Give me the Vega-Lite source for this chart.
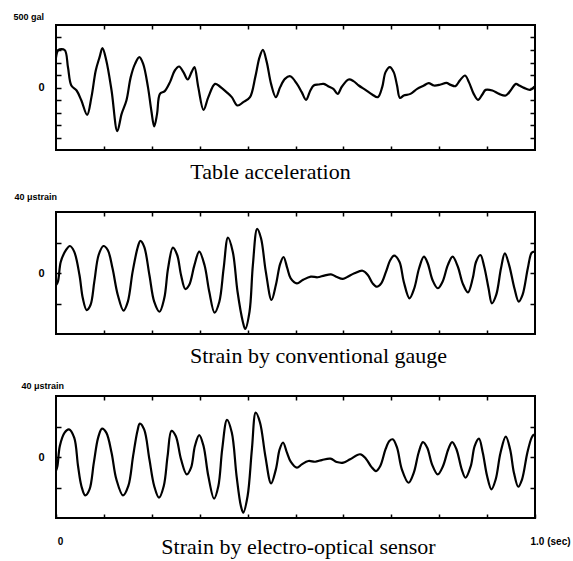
{
  "$schema": "https://vega.github.io/schema/vega-lite/v6.json",
  "background": "white",
  "padding": {"left": 12, "top": 11, "right": 5, "bottom": 5},
  "bounds": "flush",
  "spacing": 62,
  "config": {
    "view": {"stroke": "black", "strokeWidth": 2},
    "axis": {"domain": false, "grid": false, "tickColor": "black", "tickWidth": 1.5, "labelColor": "black", "titleColor": "black", "labelOverlap": false, "labelFlush": false}
  },
  "datasets": {
    "acc": [
      {"t":0,"v":240},{"t":0.005,"v":300},{"t":0.018,"v":300},{"t":0.025,"v":162},{"t":0.032,"v":16},{"t":0.043,"v":-24},{"t":0.053,"v":-104},{"t":0.065,"v":-219},{"t":0.074,"v":-77},{"t":0.083,"v":136},{"t":0.091,"v":243},{"t":0.097,"v":315},{"t":0.105,"v":216},{"t":0.116,"v":-24},{"t":0.128,"v":-349},{"t":0.137,"v":-211},{"t":0.147,"v":-104},{"t":0.156,"v":83},{"t":0.165,"v":189},{"t":0.174,"v":243},{"t":0.182,"v":189},{"t":0.192,"v":3},{"t":0.199,"v":-184},{"t":0.205,"v":-312},{"t":0.211,"v":-211},{"t":0.217,"v":-51},{"t":0.227,"v":-29},{"t":0.238,"v":43},{"t":0.248,"v":136},{"t":0.257,"v":168},{"t":0.266,"v":123},{"t":0.275,"v":64},{"t":0.283,"v":123},{"t":0.289,"v":163},{"t":0.297,"v":3},{"t":0.308,"v":-179},{"t":0.318,"v":-77},{"t":0.332,"v":29},{"t":0.342,"v":8},{"t":0.356,"v":-37},{"t":0.367,"v":-77},{"t":0.379,"v":-144},{"t":0.391,"v":-117},{"t":0.405,"v":-77},{"t":0.416,"v":83},{"t":0.425,"v":243},{"t":0.432,"v":301},{"t":0.44,"v":203},{"t":0.449,"v":29},{"t":0.459,"v":-77},{"t":0.468,"v":3},{"t":0.478,"v":69},{"t":0.489,"v":90},{"t":0.503,"v":29},{"t":0.513,"v":-37},{"t":0.522,"v":-99},{"t":0.531,"v":-24},{"t":0.538,"v":16},{"t":0.548,"v":24},{"t":0.559,"v":29},{"t":0.569,"v":8},{"t":0.579,"v":-11},{"t":0.588,"v":-51},{"t":0.597,"v":8},{"t":0.611,"v":64},{"t":0.621,"v":51},{"t":0.632,"v":16},{"t":0.646,"v":-19},{"t":0.66,"v":-56},{"t":0.672,"v":-77},{"t":0.681,"v":3},{"t":0.688,"v":123},{"t":0.697,"v":163},{"t":0.705,"v":123},{"t":0.712,"v":16},{"t":0.718,"v":-83},{"t":0.726,"v":-64},{"t":0.74,"v":-51},{"t":0.754,"v":-11},{"t":0.768,"v":16},{"t":0.778,"v":35},{"t":0.789,"v":16},{"t":0.803,"v":24},{"t":0.815,"v":37},{"t":0.824,"v":21},{"t":0.834,"v":11},{"t":0.843,"v":56},{"t":0.854,"v":96},{"t":0.862,"v":43},{"t":0.872,"v":-51},{"t":0.881,"v":-99},{"t":0.89,"v":-56},{"t":0.897,"v":-19},{"t":0.911,"v":-24},{"t":0.925,"v":-51},{"t":0.939,"v":-64},{"t":0.949,"v":-24},{"t":0.96,"v":29},{"t":0.967,"v":16},{"t":0.977,"v":-3},{"t":0.99,"v":-19},{"t":0.999,"v":8}
    ],
    "gauge": [
      {"t":0,"v":-8},{"t":0.004,"v":-5.7},{"t":0.01,"v":7.4},{"t":0.021,"v":15.1},{"t":0.029,"v":17.7},{"t":0.038,"v":14},{"t":0.049,"v":-1.3},{"t":0.056,"v":-16.6},{"t":0.064,"v":-24.3},{"t":0.072,"v":-21},{"t":0.08,"v":-5.7},{"t":0.089,"v":11.8},{"t":0.099,"v":17.7},{"t":0.108,"v":15.1},{"t":0.118,"v":3.1},{"t":0.129,"v":-14.4},{"t":0.141,"v":-24.7},{"t":0.15,"v":-18.8},{"t":0.16,"v":0.9},{"t":0.171,"v":17.3},{"t":0.176,"v":21},{"t":0.184,"v":17.3},{"t":0.195,"v":-1.3},{"t":0.205,"v":-18.8},{"t":0.216,"v":-25.4},{"t":0.226,"v":-16.6},{"t":0.234,"v":3.1},{"t":0.244,"v":16.6},{"t":0.253,"v":11.8},{"t":0.261,"v":-1.3},{"t":0.27,"v":-10.5},{"t":0.278,"v":-7.9},{"t":0.289,"v":5.2},{"t":0.299,"v":14},{"t":0.31,"v":5.2},{"t":0.32,"v":-12.3},{"t":0.331,"v":-26},{"t":0.341,"v":-18.8},{"t":0.35,"v":3.1},{"t":0.359,"v":23.2},{"t":0.369,"v":14},{"t":0.379,"v":-12.3},{"t":0.39,"v":-31.9},{"t":0.395,"v":-36.7},{"t":0.404,"v":-25.4},{"t":0.411,"v":5.2},{"t":0.42,"v":28.9},{"t":0.428,"v":22.8},{"t":0.438,"v":0.9},{"t":0.45,"v":-17.7},{"t":0.459,"v":-7.9},{"t":0.468,"v":6},{"t":0.475,"v":10.5},{"t":0.483,"v":3},{"t":0.49,"v":-3.5},{"t":0.503,"v":-6.8},{"t":0.515,"v":-4.6},{"t":0.532,"v":-2.4},{"t":0.546,"v":-2.8},{"t":0.56,"v":-1.7},{"t":0.574,"v":-0.9},{"t":0.585,"v":-2.4},{"t":0.599,"v":-3.9},{"t":0.609,"v":-2.4},{"t":0.623,"v":-0.2},{"t":0.64,"v":1.5},{"t":0.651,"v":-1.3},{"t":0.661,"v":-6.8},{"t":0.67,"v":-9},{"t":0.679,"v":-6.8},{"t":0.689,"v":0.9},{"t":0.698,"v":8.5},{"t":0.706,"v":11.4},{"t":0.717,"v":7.4},{"t":0.726,"v":-5.7},{"t":0.738,"v":-16.6},{"t":0.748,"v":-10},{"t":0.758,"v":3.1},{"t":0.768,"v":10.7},{"t":0.776,"v":6.4},{"t":0.786,"v":-4.6},{"t":0.797,"v":-10},{"t":0.807,"v":-5.7},{"t":0.818,"v":5.2},{"t":0.828,"v":10.7},{"t":0.839,"v":4.1},{"t":0.849,"v":-6.8},{"t":0.86,"v":-12.7},{"t":0.87,"v":-3.5},{"t":0.877,"v":7.4},{"t":0.886,"v":11.8},{"t":0.894,"v":4.1},{"t":0.903,"v":-10},{"t":0.91,"v":-19.9},{"t":0.919,"v":-14.4},{"t":0.929,"v":3.1},{"t":0.937,"v":12.9},{"t":0.946,"v":5.2},{"t":0.957,"v":-10},{"t":0.966,"v":-18.8},{"t":0.974,"v":-14.4},{"t":0.985,"v":3.1},{"t":0.993,"v":13.3},{"t":0.999,"v":14}
    ],
    "eo": [
      {"t":0,"v":-9},{"t":0.003,"v":-5.9},{"t":0.008,"v":7.2},{"t":0.018,"v":16},{"t":0.027,"v":18.1},{"t":0.038,"v":12.7},{"t":0.046,"v":-5.9},{"t":0.053,"v":-19},{"t":0.061,"v":-25.2},{"t":0.07,"v":-21.2},{"t":0.079,"v":-3.7},{"t":0.088,"v":12.7},{"t":0.096,"v":18.6},{"t":0.105,"v":16},{"t":0.116,"v":2.8},{"t":0.126,"v":-14.6},{"t":0.14,"v":-25.2},{"t":0.151,"v":-19},{"t":0.161,"v":0.7},{"t":0.17,"v":17.1},{"t":0.175,"v":21.9},{"t":0.184,"v":18.1},{"t":0.195,"v":-1.5},{"t":0.205,"v":-19},{"t":0.215,"v":-26.7},{"t":0.225,"v":-19},{"t":0.233,"v":0.7},{"t":0.241,"v":17.1},{"t":0.25,"v":13.8},{"t":0.261,"v":-1.5},{"t":0.273,"v":-11.4},{"t":0.282,"v":-7},{"t":0.29,"v":7.2},{"t":0.299,"v":14.4},{"t":0.308,"v":7.2},{"t":0.318,"v":-12.5},{"t":0.33,"v":-27.3},{"t":0.339,"v":-19},{"t":0.347,"v":5.1},{"t":0.357,"v":24.3},{"t":0.367,"v":16},{"t":0.377,"v":-12.5},{"t":0.386,"v":-32.1},{"t":0.391,"v":-36.5},{"t":0.4,"v":-25.6},{"t":0.409,"v":5.1},{"t":0.417,"v":29.1},{"t":0.426,"v":22.5},{"t":0.437,"v":0.7},{"t":0.449,"v":-17.3},{"t":0.459,"v":-8.1},{"t":0.467,"v":5.1},{"t":0.474,"v":9.5},{"t":0.482,"v":3},{"t":0.49,"v":-3},{"t":0.503,"v":-7},{"t":0.513,"v":-4.8},{"t":0.527,"v":-2.6},{"t":0.541,"v":-3.1},{"t":0.555,"v":-2},{"t":0.573,"v":-1.1},{"t":0.586,"v":-3.3},{"t":0.6,"v":-3.7},{"t":0.614,"v":-1.5},{"t":0.635,"v":1.8},{"t":0.647,"v":-1.1},{"t":0.658,"v":-6.3},{"t":0.668,"v":-9.2},{"t":0.677,"v":-5.9},{"t":0.688,"v":5.1},{"t":0.696,"v":10.5},{"t":0.703,"v":11.6},{"t":0.712,"v":6.1},{"t":0.722,"v":-8.1},{"t":0.736,"v":-16.9},{"t":0.747,"v":-10.3},{"t":0.757,"v":2.8},{"t":0.766,"v":9.8},{"t":0.775,"v":6.1},{"t":0.785,"v":-4.8},{"t":0.797,"v":-11.4},{"t":0.808,"v":-5.9},{"t":0.819,"v":5.1},{"t":0.827,"v":9.8},{"t":0.836,"v":5.1},{"t":0.847,"v":-8.1},{"t":0.855,"v":-13.6},{"t":0.866,"v":-5.9},{"t":0.874,"v":7.2},{"t":0.883,"v":12},{"t":0.891,"v":2.8},{"t":0.9,"v":-12.5},{"t":0.909,"v":-21.2},{"t":0.918,"v":-14.6},{"t":0.928,"v":2.8},{"t":0.939,"v":13.3},{"t":0.948,"v":5.1},{"t":0.956,"v":-10.3},{"t":0.965,"v":-19.5},{"t":0.973,"v":-14.6},{"t":0.984,"v":2.8},{"t":0.993,"v":12.7},{"t":0.998,"v":14.9}
    ]
  },
  "vconcat": [
    {
      "width": 479, "height": 125,
      "data": {"name": "acc"},
      "resolve": {"axis": {"x": "independent", "y": "independent"}},
      "layer": [
        {
          "mark": {"type": "line", "color": "black", "strokeWidth": 2.2, "interpolate": "catmull-rom"},
          "encoding": {
            "x": {"field": "t", "type": "quantitative", "scale": {"domain": [0, 1], "nice": false},
                  "axis": {"orient": "bottom", "values": [0.1,0.2,0.3,0.4,0.5,0.6,0.7,0.8,0.9], "tickSize": -4, "labels": false,
                           "title": "Table acceleration", "titleFont": "Liberation Serif", "titleFontSize": 22, "titleFontWeight": "normal",
                           "titleX": 214, "titleY": 28, "titleBaseline": "alphabetic", "titleAlign": "center"}},
            "y": {"field": "v", "type": "quantitative", "scale": {"domain": [-500, 500], "nice": false},
                  "axis": {"orient": "left", "values": [-400,-300,-200,-100,0,100,200,300,400], "tickSize": -5,
                           "labelExpr": "datum.value == 0 ? '0' : ''", "labelPadding": 17, "labelFont": "Liberation Sans", "labelFontWeight": "bold", "labelFontSize": 11,
                           "title": "500 gal", "titleAngle": 0, "titleAlign": "left", "titleBaseline": "top", "titleX": -43, "titleY": -13,
                           "titleFont": "Liberation Sans Narrow, Liberation Sans", "titleFontSize": 9, "titleFontWeight": "bold"}}
          }
        },
        {
          "mark": {"type": "line", "strokeOpacity": 0},
          "encoding": {
            "x": {"field": "t", "type": "quantitative",
                  "axis": {"orient": "top", "values": [0.1,0.2,0.3,0.4,0.5,0.6,0.7,0.8,0.9], "tickSize": -4, "labels": false, "title": null}},
            "y": {"field": "v", "type": "quantitative",
                  "axis": {"orient": "right", "values": [-400,-300,-200,-100,0,100,200,300,400], "tickSize": -5, "labels": false, "title": null}}
          }
        }
      ]
    },
    {
      "width": 479, "height": 122,
      "data": {"name": "gauge"},
      "resolve": {"axis": {"x": "independent", "y": "independent"}},
      "layer": [
        {
          "mark": {"type": "line", "color": "black", "strokeWidth": 2.2, "interpolate": "catmull-rom"},
          "encoding": {
            "x": {"field": "t", "type": "quantitative", "scale": {"domain": [0, 1], "nice": false},
                  "axis": {"orient": "bottom", "values": [0.1,0.2,0.3,0.4,0.5,0.6,0.7,0.8,0.9], "tickSize": -4, "labels": false,
                           "title": "Strain by conventional gauge", "titleFont": "Liberation Serif", "titleFontSize": 22, "titleFontWeight": "normal",
                           "titleX": 262, "titleY": 28, "titleBaseline": "alphabetic", "titleAlign": "center"}},
            "y": {"field": "v", "type": "quantitative", "scale": {"domain": [-40, 40], "nice": false},
                  "axis": {"orient": "left", "values": [-20, 0, 20], "tickSize": -5,
                           "labelExpr": "datum.value == 0 ? '0' : ''", "labelPadding": 17, "labelFont": "Liberation Sans", "labelFontWeight": "bold", "labelFontSize": 11,
                           "title": "40 μstrain", "titleAngle": 0, "titleAlign": "left", "titleBaseline": "top", "titleX": -42, "titleY": -20,
                           "titleFont": "Liberation Sans Narrow, Liberation Sans", "titleFontSize": 9, "titleFontWeight": "bold"}}
          }
        },
        {
          "mark": {"type": "line", "strokeOpacity": 0},
          "encoding": {
            "x": {"field": "t", "type": "quantitative",
                  "axis": {"orient": "top", "values": [0.1,0.2,0.3,0.4,0.5,0.6,0.7,0.8,0.9], "tickSize": -4, "labels": false, "title": null}},
            "y": {"field": "v", "type": "quantitative",
                  "axis": {"orient": "right", "values": [-20, 0, 20], "tickSize": -5, "labels": false, "title": null}}
          }
        }
      ]
    },
    {
      "width": 479, "height": 122,
      "data": {"name": "eo"},
      "resolve": {"axis": {"x": "independent", "y": "independent"}},
      "layer": [
        {
          "mark": {"type": "line", "color": "black", "strokeWidth": 2.2, "interpolate": "catmull-rom"},
          "encoding": {
            "x": {"field": "t", "type": "quantitative", "scale": {"domain": [0, 1], "nice": false},
                  "axis": {"orient": "bottom", "values": [0,0.1,0.2,0.3,0.4,0.5,0.6,0.7,0.8,0.9,1], "tickSize": -4,
                           "labelExpr": "datum.value == 0 ? '0' : (datum.value == 1 ? '1.0 (sec)' : '')",
                           "labelAlign": {"expr": "datum.value == 1 ? 'left' : 'center'"},
                           "labelOffset": {"expr": "datum.value == 1 ? -5 : 4"},
                           "labelPadding": 22, "labelBaseline": "top", "labelFont": "Liberation Sans", "labelFontWeight": "bold", "labelFontSize": 10,
                           "title": "Strain by electro-optical sensor", "titleFont": "Liberation Serif", "titleFontSize": 22, "titleFontWeight": "normal",
                           "titleX": 242, "titleY": 35, "titleBaseline": "alphabetic", "titleAlign": "center"}},
            "y": {"field": "v", "type": "quantitative", "scale": {"domain": [-40, 40], "nice": false},
                  "axis": {"orient": "left", "values": [-20, 0, 20], "tickSize": -5,
                           "labelExpr": "datum.value == 0 ? '0' : ''", "labelPadding": 17, "labelFont": "Liberation Sans", "labelFontWeight": "bold", "labelFontSize": 11,
                           "title": "40 μstrain", "titleAngle": 0, "titleAlign": "left", "titleBaseline": "top", "titleX": -35, "titleY": -15,
                           "titleFont": "Liberation Sans Narrow, Liberation Sans", "titleFontSize": 9, "titleFontWeight": "bold"}}
          }
        },
        {
          "mark": {"type": "line", "strokeOpacity": 0},
          "encoding": {
            "x": {"field": "t", "type": "quantitative",
                  "axis": {"orient": "top", "values": [0.1,0.2,0.3,0.4,0.5,0.6,0.7,0.8,0.9], "tickSize": -4, "labels": false, "title": null}},
            "y": {"field": "v", "type": "quantitative",
                  "axis": {"orient": "right", "values": [-20, 0, 20], "tickSize": -5, "labels": false, "title": null}}
          }
        }
      ]
    }
  ]
}
